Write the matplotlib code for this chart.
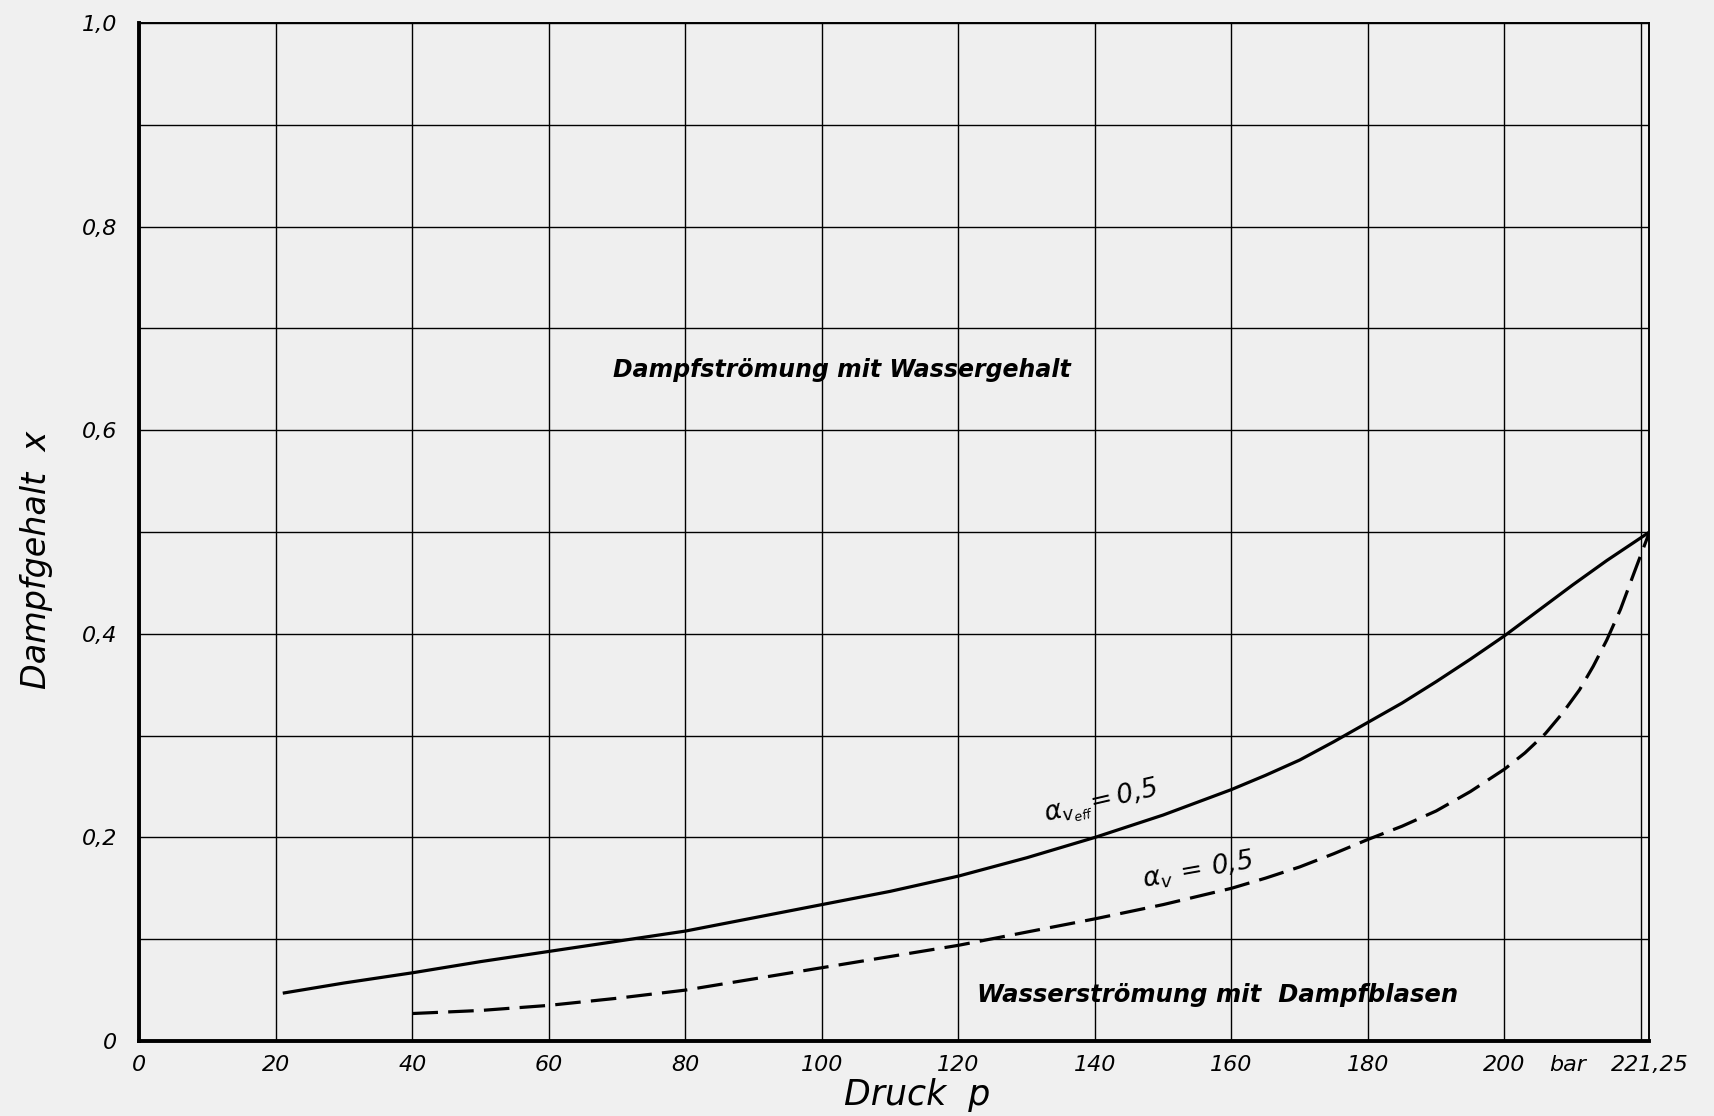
import matplotlib
matplotlib.use("Agg")
import matplotlib.pyplot as plt
from matplotlib.ticker import FixedLocator

# ---- data ----
p_eff = [21, 30, 40, 50, 60, 70, 80, 90, 100, 110, 120, 130, 140, 150, 160,
         165, 170, 175, 180, 185, 190, 195, 200, 205, 210, 215, 221.25]
x_eff = [0.047, 0.057, 0.067, 0.078, 0.088, 0.098, 0.108, 0.121, 0.134, 0.147,
         0.162, 0.180, 0.200, 0.222, 0.247, 0.261, 0.276, 0.294, 0.313, 0.332,
         0.353, 0.375, 0.398, 0.423, 0.448, 0.472, 0.500]

p_v = [40, 50, 60, 70, 80, 90, 100, 110, 120, 130, 140, 150, 160, 165, 170,
       175, 180, 185, 190, 195, 200, 203, 206, 208.5, 211, 213, 215, 217,
       219, 221.25]
x_v = [0.027, 0.030, 0.035, 0.042, 0.050, 0.061, 0.072, 0.083, 0.094, 0.107,
       0.120, 0.134, 0.150, 0.160, 0.171, 0.184, 0.198, 0.211, 0.226, 0.245,
       0.267, 0.283, 0.302, 0.322, 0.345, 0.368, 0.394, 0.424, 0.460, 0.500]

x_ticks = [0, 20, 40, 60, 80, 100, 120, 140, 160, 180, 200, 220]
x_tick_labels = ["0", "20", "40", "60", "80", "100", "120", "140", "160", "180", "200", ""]
x_extra_ticks = [209.2, 221.25]
x_extra_labels = ["bar", "221,25"]
y_grid = [0.0, 0.1, 0.2, 0.3, 0.4, 0.5, 0.6, 0.7, 0.8, 0.9, 1.0]
y_tick_labels = ["0", "", "0,2", "", "0,4", "", "0,6", "", "0,8", "", "1,0"]

plt.rcParams["font.family"] = ["DejaVu Sans"]
plt.rcParams["font.style"] = "italic"
plt.rcParams["mathtext.fontset"] = "dejavusans"

fig = plt.figure(figsize=(17.15, 11.16), dpi=100, facecolor="#f0f0f0")
ax = fig.add_axes([0.0813, 0.0672, 0.9618 - 0.0813, 0.9794 - 0.0672])
ax.set_facecolor("#efefef")

ax.plot(p_eff, x_eff, color="black", lw=2.3, solid_capstyle="butt",
        solid_joinstyle="round", zorder=3)
ax.plot(p_v, x_v, color="black", lw=2.3, dashes=(8, 3.2), zorder=3)

ax.set_xlim(0, 221.25)
ax.set_ylim(0, 1.0)

ax.xaxis.set_major_locator(FixedLocator(x_ticks))
ax.set_xticklabels(x_tick_labels)
ax.xaxis.set_minor_locator(FixedLocator(x_extra_ticks))
ax.set_xticklabels(x_extra_labels, minor=True)
ax.yaxis.set_major_locator(FixedLocator(y_grid))
ax.set_yticklabels(y_tick_labels)

ax.tick_params(axis="both", which="both", length=0, labelsize=16, colors="black")
ax.tick_params(axis="x", which="both", pad=10)
ax.tick_params(axis="y", which="major", pad=16)
ax.grid(True, which="major", color="black", lw=1.0, zorder=1)
ax.set_axisbelow(True)

for side in ["left", "bottom"]:
    ax.spines[side].set_linewidth(2.8)
for side in ["top", "right"]:
    ax.spines[side].set_linewidth(1.4)

ax.set_xlabel("Druck  p", fontsize=25, style="italic")
ax.xaxis.set_label_coords(0.515, -0.036)
ax.set_ylabel("Dampfgehalt  x", fontsize=24, style="italic")
ax.yaxis.set_label_coords(-0.0575, 0.4725)

ax.text(102.9, 0.659, "Dampfströmung mit Wassergehalt", fontsize=17,
        fontweight="bold", style="italic", ha="center", va="center")
ax.text(158.0, 0.045, "Wasserströmung mit  Dampfblasen", fontsize=17.5,
        fontweight="bold", style="italic", ha="center", va="center")

ax.text(141.0, 0.234, r"$\alpha_{v_{eff}}\!= 0{,}5$", fontsize=19,
        ha="center", va="center", rotation=13)
ax.text(155.1, 0.168, r"$\alpha_{v}\,=\,0{,}5$", fontsize=19,
        ha="center", va="center", rotation=10)

fig.savefig("out.png", dpi=100, facecolor=fig.get_facecolor())
